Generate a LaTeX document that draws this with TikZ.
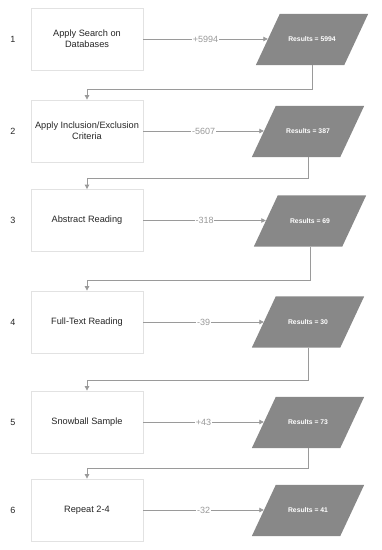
\documentclass[tikz,border=0pt]{standalone}
\usepackage{fontspec}
\setmainfont{Liberation Sans}
\usetikzlibrary{arrows.meta,backgrounds}
\definecolor{boxline}{HTML}{E2E2E2}
\definecolor{linegray}{HTML}{9A9A9A}
\definecolor{resfill}{HTML}{888888}
\definecolor{labgray}{HTML}{999999}
\tikzset{
  stepbox/.style={draw=boxline, fill=white, line width=0.8pt, minimum width=112pt, minimum height=62pt, inner sep=1pt, align=center, font=\fontsize{9.2}{11.2}\selectfont, text=black!85},
  resbox/.style={rectangle, draw=none, minimum width=88pt, minimum height=51pt, inner sep=0pt, align=center, text=white, font=\bfseries\fontsize{6.8}{8}\selectfont},
  resfillpath/.style={fill=resfill},
  rownum/.style={font=\fontsize{9}{11}\selectfont, text=black!85},
  conn/.style={draw=linegray, line width=0.8pt, -{Triangle[width=4.5pt,length=4.5pt]}},
  cnt/.style={fill=white, inner sep=0.6pt, text=labgray, font=\fontsize{9}{11}\selectfont}
}
\begin{document}
\begin{tikzpicture}[x=1pt,y=-1pt]
\useasboundingbox (0,0) rectangle (381,550);
% rows
\node[rownum] (n1) at (13,39) {1};
\node[rownum] (n2) at (13,131) {2};
\node[rownum] (n3) at (13,220.5) {3};
\node[rownum] (n4) at (13,322) {4};
\node[rownum] (n5) at (13,422) {5};
\node[rownum] (n6) at (13,510) {6};
\node[stepbox] (b1) at (87,39) {Apply Search on\\Databases};
\node[stepbox] (b2) at (87,131) {Apply Inclusion/Exclusion\\Criteria};
\node[stepbox] (b3) at (87,220.5) {Abstract Reading};
\node[stepbox] (b4) at (87,322) {Full-Text Reading};
\node[stepbox] (b5) at (87,422) {Snowball Sample};
\node[stepbox] (b6) at (87,510) {Repeat 2-4};
\node[resbox] (r1) at (312,39.5) {Results = 5994};
\node[resbox] (r2) at (308,131.5) {Results = 387};
\node[resbox] (r3) at (310,221) {Results = 69};
\node[resbox] (r4) at (308,322) {Results = 30};
\node[resbox] (r5) at (308,422.5) {Results = 73};
\node[resbox] (r6) at (308,510.5) {Results = 41};
\begin{scope}[on background layer]
\foreach \r in {r1,r2,r3,r4,r5,r6}{
  \fill[resfillpath] ([xshift=12pt]\r.north west) -- ([xshift=12pt]\r.north east)
     -- ([xshift=-12pt]\r.south east) -- ([xshift=-12pt]\r.south west) -- cycle;
}
\end{scope}
% horizontal arrows
\draw[conn] (b1.east) -- node[cnt] {+5994} (b1.east -| r1.west);
\draw[conn] (b2.east) -- node[cnt] {-5607} (b2.east -| r2.west);
\draw[conn] (b3.east) -- node[cnt] {-318} (b3.east -| r3.west);
\draw[conn] (b4.east) -- node[cnt] {-39} (b4.east -| r4.west);
\draw[conn] (b5.east) -- node[cnt] {+43} (b5.east -| r5.west);
\draw[conn] (b6.east) -- node[cnt] {-32} (b6.east -| r6.west);
% return connectors
\draw[conn] (r1.south) |- ([yshift=10.5pt]b2.north) -- (b2.north);
\draw[conn] (r2.south) |- ([yshift=10.5pt]b3.north) -- (b3.north);
\draw[conn] (r3.south) |- ([yshift=10.5pt]b4.north) -- (b4.north);
\draw[conn] (r4.south) |- ([yshift=10.5pt]b5.north) -- (b5.north);
\draw[conn] (r5.south) |- ([yshift=10.5pt]b6.north) -- (b6.north);
\end{tikzpicture}
\end{document}
